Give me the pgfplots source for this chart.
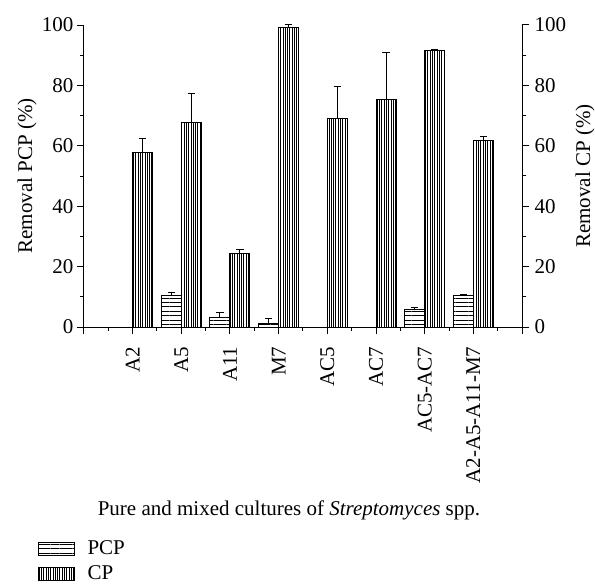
\documentclass[border=0pt]{standalone}
\usepackage{fontspec}
\setmainfont{Liberation Serif}
\usepackage{pgfplots}
\usepackage{pgfplotstable}
\pgfplotsset{compat=1.18}
\usetikzlibrary{patterns.meta}

% removal of PCP, only the cultures with a bar
\pgfplotstableread{
cat val err
2 10.5 0.9
3 3.2 1.5
4 1.0 1.7
7 5.7 0.9
8 10.3 0.4
}\pcpdata
% removal of CP
\pgfplotstableread{
cat val err
1 57.7 4.7
2 67.8 9.6
3 24.5 1.2
4 99.2 0.9
5 68.9 10.7
6 75.4 15.6
7 91.5 0.3
8 61.8 1.2
}\cpdata

\pgfplotsset{
  removal/.style={
    width=219pt, height=151pt, scale only axis,
    xmin=0, xmax=9, ymin=0, ymax=100,
    ytick={0,20,...,100}, minor y tick num=1,
    tick align=outside,
    major tick length=3.6pt, minor tick length=1.8pt,
    every tick/.style={black, line width=0.5pt},
    axis line style={-, line width=0.5pt},
    /pgf/number format/assume math mode=true,
    ybar, bar width=10pt,
    error bars/y dir=plus, error bars/y explicit,
    error bars/error bar style={black, line width=0.5pt},
    error bars/error mark options={rotate=90, black, line width=0.5pt, mark size=1.8pt},
  },
  pcpbar/.style={draw=black, line width=0.5pt, bar shift=-5pt,
    pattern={Lines[angle=0, distance=2.2pt, line width=0.35pt]}},
  cpbar/.style={draw=black, line width=0.5pt, bar shift=5pt,
    pattern={Lines[angle=90, distance=1.15pt, line width=0.3pt]}},
}

\begin{document}
\fontsize{10.5}{12.6}\selectfont
\begin{tikzpicture}
\begin{axis}[
  removal,
  axis x line*=bottom, axis y line*=left,
  xtick={0,...,9}, minor x tick num=1,
  xticklabels={,A2,A5,A11,M7,AC5,AC7,AC5-AC7,A2-A5-A11-M7,},
  xticklabel style={rotate=90, anchor=east, inner sep=0pt, xshift=-6pt},
  yticklabel style={inner xsep=1.5pt},
  ylabel={Removal PCP (\%)},
  ylabel style={at={(axis description cs:-0.130,0.5)}, anchor=center},
  xlabel={Pure and mixed cultures of \textit{Streptomyces} spp.},
  xlabel style={at={(axis description cs:0.468,-0.606)}, anchor=center},
  legend style={at={(axis description cs:-0.107,-0.705)}, anchor=north west,
    draw=none, fill=none, inner sep=0pt, row sep=4pt,
    nodes={inner sep=0pt, anchor=west}},
  legend cell align=left,
  legend image code/.code={\draw[#1] (0pt,-3.25pt) rectangle (18pt,3.25pt);
    \path (24.5pt,0pt);},
]
\addplot[pcpbar] table[x=cat, y=val, y error=err] {\pcpdata};
\addlegendentry{PCP}
\addlegendimage{cpbar}
\addlegendentry{CP}
\end{axis}
\begin{axis}[
  removal,
  axis x line=none, axis y line*=right,
  xtick=\empty,
  yticklabel style={inner xsep=2.5pt},
  ylabel={Removal CP (\%)},
  ylabel style={at={(axis description cs:1.144,0.5)}, anchor=center},
]
\addplot[cpbar] table[x=cat, y=val, y error=err] {\cpdata};
\end{axis}
\pgfresetboundingbox
\path (-42pt,-128.5pt) rectangle (255.5pt,163.5pt);
\end{tikzpicture}
\end{document}
